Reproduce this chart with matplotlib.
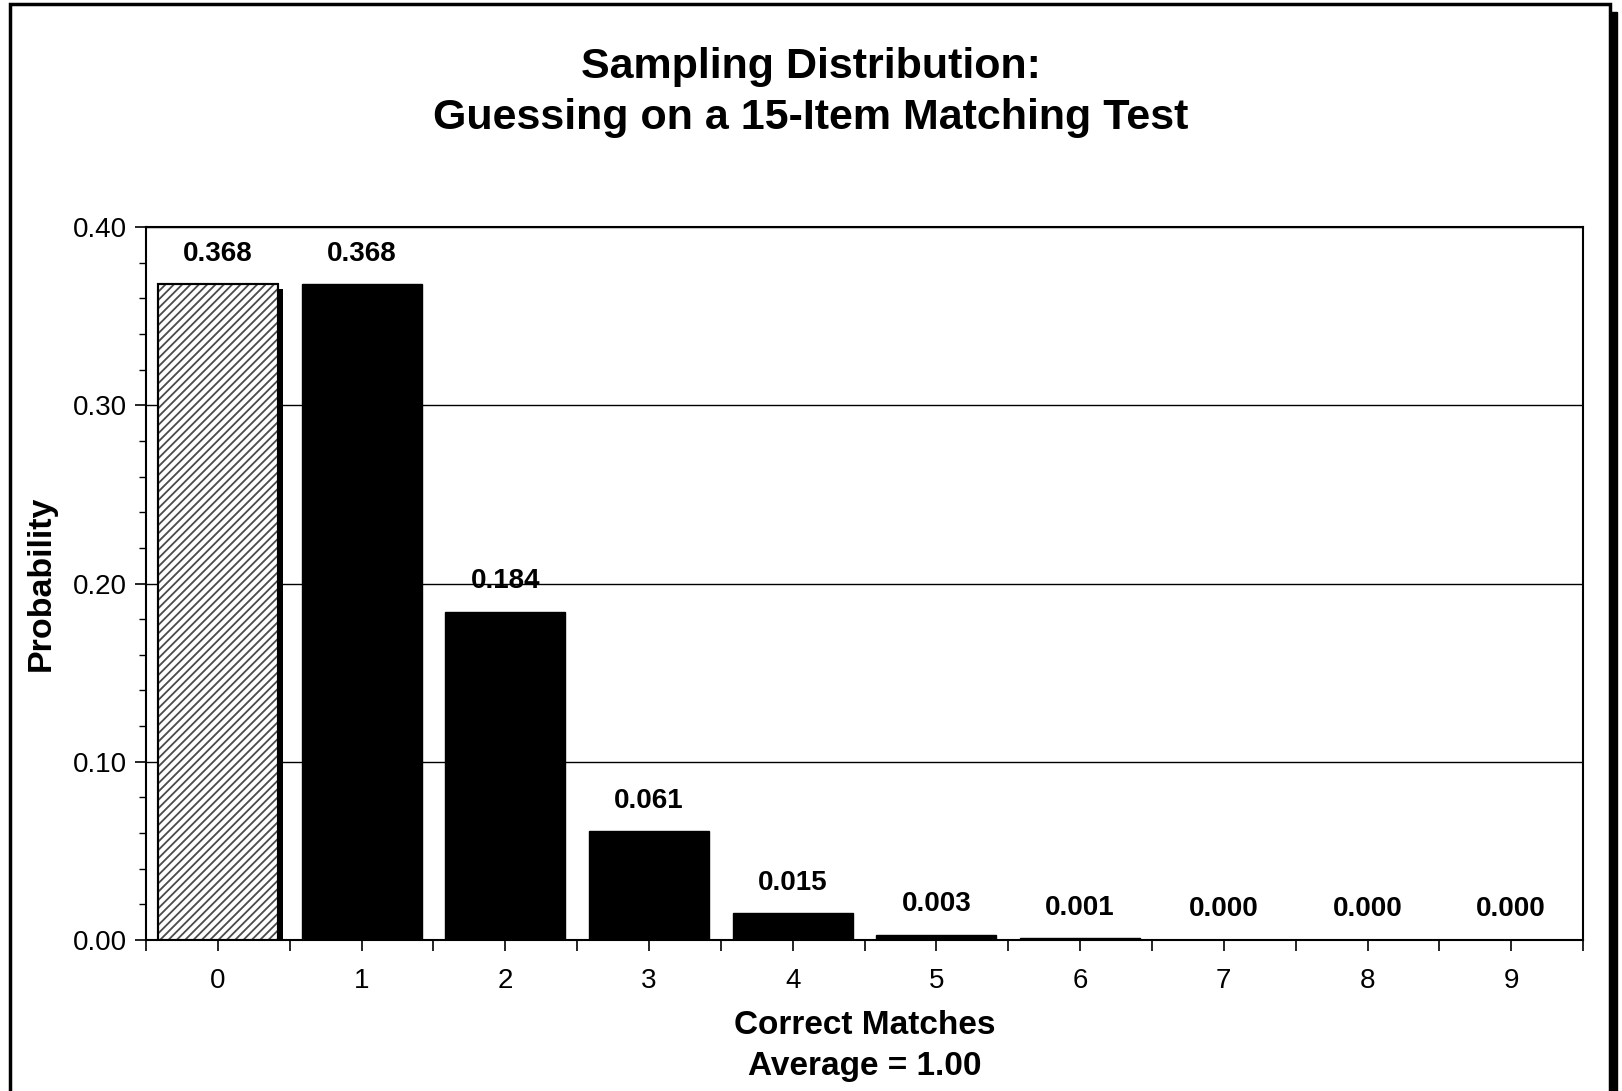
import matplotlib
matplotlib.use("Agg")
import matplotlib.pyplot as plt
import matplotlib.patheffects as pe
from matplotlib.patches import Rectangle
from matplotlib.ticker import MultipleLocator

plt.rcParams['font.family'] = ['Liberation Sans', 'DejaVu Sans']
plt.rcParams['hatch.linewidth'] = 1.3
plt.rcParams['hatch.color'] = '#4a4a4a'

# data
matches = [0, 1, 2, 3, 4, 5, 6, 7, 8, 9]
probs = [0.368, 0.368, 0.184, 0.061, 0.015, 0.003, 0.001, 0.0, 0.0, 0.0]
labels = ['0.368', '0.368', '0.184', '0.061', '0.015', '0.003', '0.001', '0.000', '0.000', '0.000']

fig = plt.figure(figsize=(16.22, 10.91), dpi=100)
ax = fig.add_axes([0.090, 0.1384, 0.886, 0.6535])
ax.set_zorder(1)

# outer frame with a small shadow, like the original chart area
fig.patches.append(Rectangle((16 / 1622, -0.05), 1601 / 1622, 1 - 8 / 1091 + 0.05 - 0.004,
                             transform=fig.transFigure, facecolor='black', edgecolor='black', zorder=-2))
fig.patches.append(Rectangle((10 / 1622, -0.05), 1600 / 1622, 1 - 4 / 1091 + 0.05,
                             transform=fig.transFigure, facecolor='white', edgecolor='black',
                             linewidth=2.5, zorder=-1))

w = 0.835
# first bar: hatched with a drop shadow
ax.bar(matches[:1], probs[:1], width=w, facecolor='white', edgecolor='black', linewidth=1.5,
       zorder=3, path_effects=[pe.SimplePatchShadow(offset=(3.6, -3.6), shadow_rgbFace='black', alpha=1.0),
                               pe.Normal()])
ax.bar(matches[:1], probs[:1], width=w, facecolor='none', edgecolor='#4a4a4a', hatch='////',
       linewidth=0, zorder=3.5)
ax.bar(matches[:1], probs[:1], width=w, facecolor='none', edgecolor='black', linewidth=1.5, zorder=4)
ax.bar(matches[1:], probs[1:], width=w, color='black', edgecolor='black', linewidth=1, zorder=3)

for x, p, t in zip(matches, probs, labels):
    ax.annotate(t, (x, p), xytext=(0, 22), textcoords='offset points', ha='center', va='center',
                fontsize=20, fontweight='bold')

ax.set_xlim(-0.5, 9.5)
ax.set_ylim(0, 0.40)
ax.yaxis.set_major_locator(MultipleLocator(0.10))
ax.yaxis.set_minor_locator(MultipleLocator(0.02))
ax.set_yticks([0, 0.1, 0.2, 0.3, 0.4])
ax.set_yticklabels(['0.00', '0.10', '0.20', '0.30', '0.40'])
ax.set_xticks(matches)
ax.set_xticklabels([str(m) for m in matches])
ax.set_xticks([m + 0.5 for m in [-1] + matches], minor=True)
ax.tick_params(axis='both', which='major', labelsize=20, length=8, width=1.2, direction='out')
ax.tick_params(axis='y', which='minor', length=5, width=1.0, direction='out')
ax.tick_params(axis='x', which='minor', length=8, width=1.2, direction='out')
ax.tick_params(axis='x', which='major', pad=12)
ax.tick_params(axis='y', which='major', pad=6)

ax.grid(axis='y', which='major', color='black', linewidth=1.0, zorder=0)
ax.set_axisbelow(True)
for s in ax.spines.values():
    s.set_linewidth(1.5)

ax.set_ylabel('Probability', fontsize=24.5, fontweight='bold', labelpad=11)
ax.set_xlabel('Correct Matches\nAverage = 1.00', fontsize=24, fontweight='bold', labelpad=12,
              linespacing=1.4)

fig.text(0.5, 0.939, 'Sampling Distribution:', ha='center', va='center', fontsize=31, fontweight='bold')
fig.text(0.5, 0.892, 'Guessing on a 15-Item Matching Test', ha='center', va='center', fontsize=31,
         fontweight='bold')

fig.savefig('out.png', dpi=100)
